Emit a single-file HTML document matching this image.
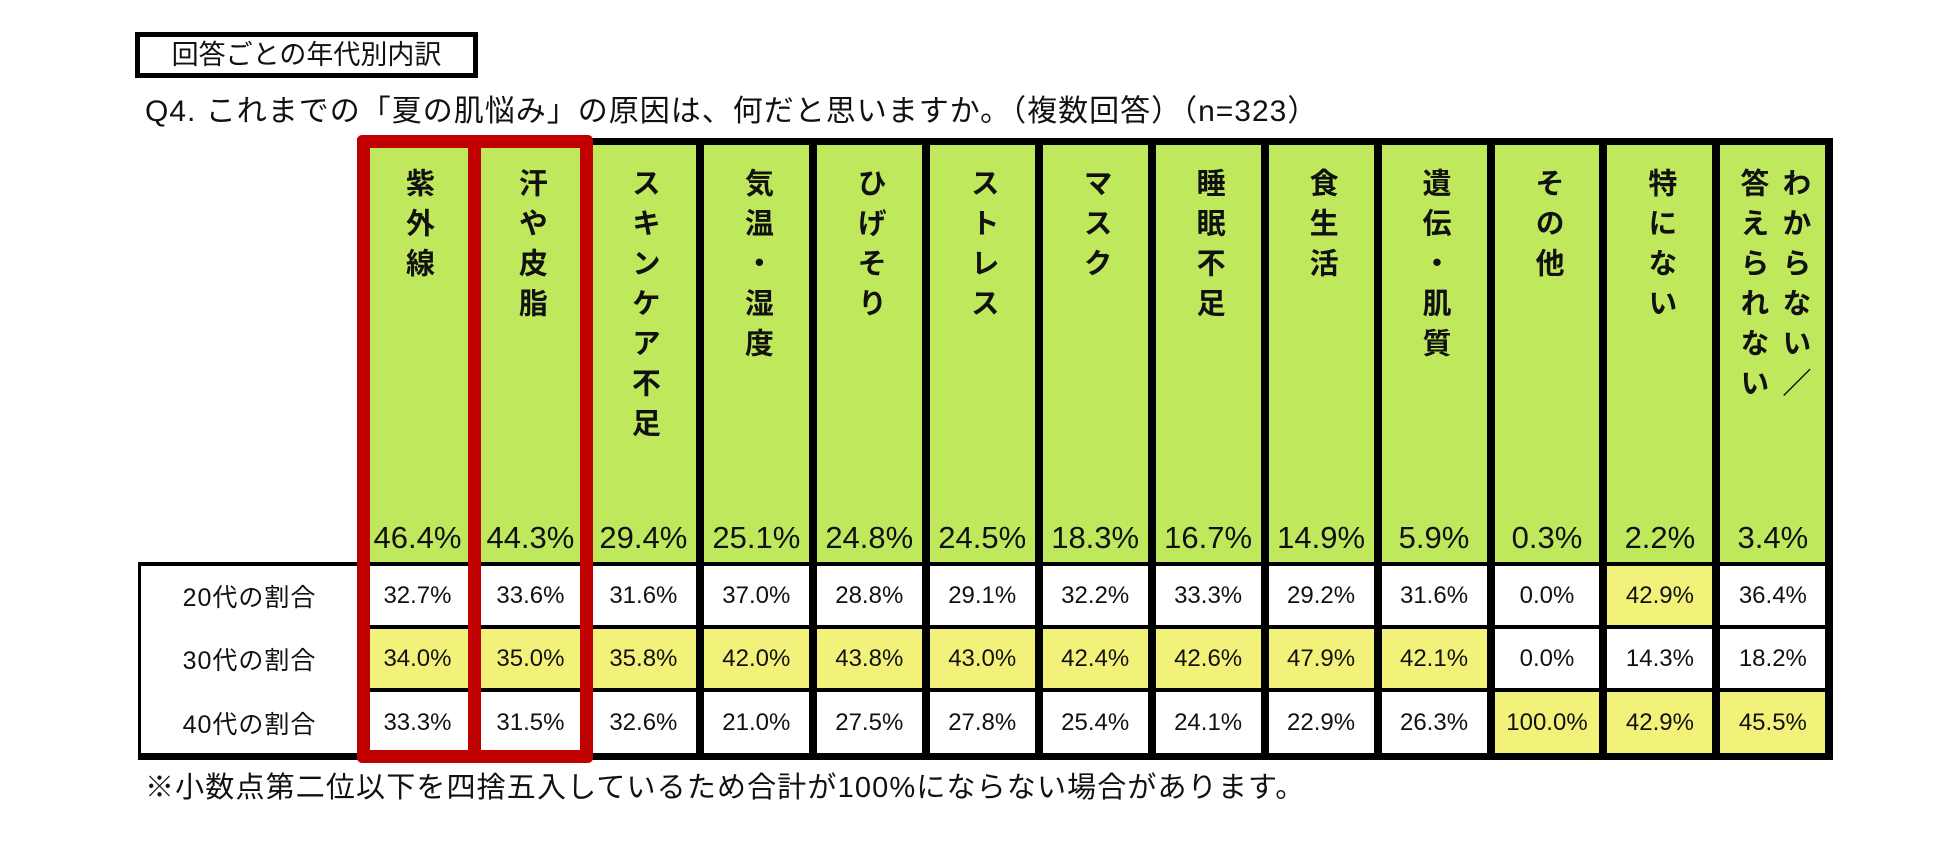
<!DOCTYPE html>
<html><head><meta charset="utf-8">
<style>
body{margin:0;width:1950px;height:858px;background:#fff;position:relative;overflow:hidden;font-family:"Liberation Sans","Noto Sans CJK JP",sans-serif;color:#111}
.a{position:absolute}
.hd{position:absolute;writing-mode:vertical-rl;font-weight:bold;font-size:29px;letter-spacing:11px;line-height:42px}
.c{position:absolute;display:flex;align-items:center;justify-content:center}
</style></head><body>
<div class="a" style="left:135px;top:32px;width:333px;height:36px;border:5px solid #000;font-size:27px;line-height:36px;text-align:center">回答ごとの年代別内訳</div>
<div class="a" style="left:145px;top:94px;font-size:30px;line-height:36px;white-space:nowrap;letter-spacing:1.0px">Q4. これまでの「夏の肌悩み」の原因は、何だと思いますか。（複数回答）（n=323）</div>
<div class="a" style="left:145px;top:770px;font-size:29px;line-height:36px;white-space:nowrap;letter-spacing:1.15px">※小数点第二位以下を四捨五入しているため合計が100%にならない場合があります。</div>
<div id="tbl"></div>
<script>
const categories=["紫外線","汗や皮脂","スキンケア不足","気温・湿度","ひげそり","ストレス","マスク","睡眠不足","食生活","遺伝・肌質","その他","特にない","わからない／<br>答えられない"];
const totals=["46.4%","44.3%","29.4%","25.1%","24.8%","24.5%","18.3%","16.7%","14.9%","5.9%","0.3%","2.2%","3.4%"];
const rowLabels=["20代の割合","30代の割合","40代の割合"];
const row20=["32.7%","33.6%","31.6%","37.0%","28.8%","29.1%","32.2%","33.3%","29.2%","31.6%","0.0%","42.9%","36.4%"];
const row30=["34.0%","35.0%","35.8%","42.0%","43.8%","43.0%","42.4%","42.6%","47.9%","42.1%","0.0%","14.3%","18.2%"];
const row40=["33.3%","31.5%","32.6%","21.0%","27.5%","27.8%","25.4%","24.1%","22.9%","26.3%","100.0%","42.9%","45.5%"];
const hi20=[0,0,0,0,0,0,0,0,0,0,0,1,0];
const hi30=[1,1,1,1,1,1,1,1,1,1,0,0,0];
const hi40=[0,0,0,0,0,0,0,0,0,0,1,1,1];
const rows=[row20,row30,row40], his=[hi20,hi30,hi40];
const T=document.getElementById('tbl');
const X0=361, P=112.95, yTop=142, yG=564, rowY=[564,627,690,756];
const lx=i=>X0+i*P;
function box(x,y,w,h,bg,name){const d=document.createElement('div');d.className='a';d.style.cssText=`left:${x}px;top:${y}px;width:${w}px;height:${h}px;background:${bg}`;


T.appendChild(d);return d;}
box(lx(0),yTop,lx(13)-lx(0),yG-yTop,'#bfe85c','header-background');
categories.forEach((c,i)=>{
 const cx=(lx(i)+lx(i+1))/2;
 const h=document.createElement('div');h.className='hd';h.innerHTML=c;
 
 
 h.style.top='168px';h.style.left=(cx-(c.includes('<br>')?42:21))+'px';
 T.appendChild(h);
 const t=document.createElement('div');t.className='c';t.textContent=totals[i];
 
 
 t.style.cssText+=`left:${lx(i)}px;top:515px;width:${P}px;height:46px;font-size:31px`;
 T.appendChild(t);
 rows.forEach((r,k)=>{
  const cell=box(lx(i),rowY[k],P,rowY[k+1]-rowY[k],his[k][i]?'#f2f27a':'#fff','cell-'+k+'-'+i);
  cell.className='c';cell.textContent=r[i];cell.style.fontSize='24px';
 });
});
rowLabels.forEach((l,k)=>{const d=box(138,rowY[k],lx(0)-138,rowY[k+1]-rowY[k],'#fff','row-label-'+k);d.className='c';d.textContent=l;d.style.fontSize='25px';d.style.letterSpacing='1px';});
for(let i=0;i<=13;i++) box(lx(i)-4,yTop-3,8,rowY[3]-yTop+6,'#000','col-line-'+i);
box(lx(0)-4,yTop-4,lx(13)-lx(0)+8,7,'#000','top-line');
rowY.forEach((y,k)=>box(k==0||k==3?138:lx(0),y-(k==3?3:2),(k==0||k==3?lx(13)-138+4:lx(13)-lx(0)),k==3?7:4,'#000','row-line-'+k));
box(138,rowY[0]-2,3,rowY[3]-rowY[0]+4,'#000','label-left-line');
const r=box(lx(0)-4,135,10,628,'transparent','highlight-box');
r.style.border='13px solid #c00000';r.style.borderRadius='5px';r.style.boxSizing='border-box';r.style.width=(lx(2)+6-(lx(0)-4))+'px';
box(lx(1)-6,135,13,628,'#c00000','highlight-divider');
</script>
</body></html>
